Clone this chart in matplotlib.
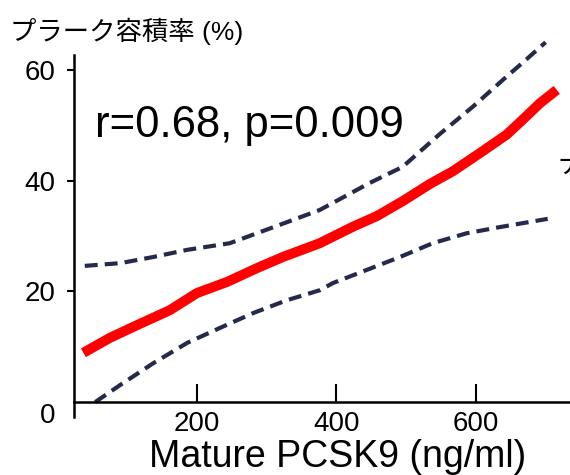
import matplotlib
matplotlib.use("Agg")
import matplotlib.pyplot as plt
from matplotlib.transforms import ScaledTranslation

plt.rcParams['font.family'] = ['Liberation Sans', 'Noto Sans CJK JP', 'DejaVu Sans']

# regression line and 95% band
fit_x = [37, 75, 114, 161, 200, 243, 286, 323, 376, 424, 458, 495, 534, 567, 606, 644, 667, 692, 716]
fit_y = [8.9, 11.6, 13.9, 16.6, 19.7, 21.7, 24.2, 26.2, 28.7, 31.7, 33.6, 36.3, 39.4, 41.7, 45.0, 48.3, 51.0, 54.0, 56.4]

upper_x = [39, 90, 137, 186, 247, 286, 329, 376, 448, 495, 548, 596, 644, 667, 700]
upper_y = [24.6, 25.1, 26.2, 27.5, 28.7, 30.5, 32.5, 34.7, 39.6, 42.5, 48.4, 53.4, 58.8, 61.3, 65.0]

lower_x = [54, 90, 137, 186, 233, 281, 329, 376, 395, 444, 491, 538, 587, 634, 703]
lower_y = [0, 3.1, 7.0, 10.7, 13.4, 16.1, 18.4, 20.2, 21.5, 23.9, 26.2, 28.7, 30.5, 31.6, 33.1]

x_ticks = [200, 400, 600]
y_ticks = [0, 20, 40, 60]

fig = plt.figure(figsize=(5.7, 4.75), dpi=100)
ax = fig.add_axes([0.1304, 0.1221, 0.8696, 0.7621])

band = '#252a4c'
ax.plot(upper_x, upper_y, color=band, lw=3, ls=(0, (3.1, 1.7)), clip_on=False)
ax.plot(lower_x, lower_y, color=band, lw=3, ls=(0, (3.1, 1.7)), clip_on=False)
ax.plot(fit_x, fit_y, color='#ff0000', lw=7.2, solid_capstyle='butt',
        solid_joinstyle='round', clip_on=False)

ax.set_xlim(24, 735)
ax.set_ylim(-2.7, 62.7)

for s in ['top', 'right']:
    ax.spines[s].set_visible(False)
ax.spines['bottom'].set_position(('data', 0))
ax.spines['left'].set_linewidth(1.8)
ax.spines['bottom'].set_linewidth(1.8)

ax.set_xticks(x_ticks)
ax.set_yticks(y_ticks)
ax.tick_params(axis='x', direction='in', length=13, width=1.5, labelsize=20, pad=6.5)
ax.tick_params(axis='y', direction='out', length=5, width=1.5, labelsize=20, pad=8.5)

# the zero label sits a little below the axis line and has no tick mark
zero = ax.yaxis.get_major_ticks()[0]
zero.tick1line.set_visible(False)
zero.label1.set_transform(zero.label1.get_transform()
                          + ScaledTranslation(0, -11 / 100, fig.dpi_scale_trans))

ax.text(53.8, 47.9, 'r=0.68, p=0.009', fontsize=31.5, ha='left', va='baseline')

fig.text(337.5 / 570, 8 / 475, 'Mature PCSK9 (ng/ml)', fontsize=27,
         ha='center', va='baseline')
fig.text(10 / 570, 435 / 475, 'プラーク容積率 (%)', fontsize=19,
         ha='left', va='baseline')
fig.text(557 / 570, 302 / 475, 'ナ', fontsize=19, ha='left', va='baseline',
         family=['Noto Sans CJK JP'])

fig.savefig('out.png', dpi=100)
